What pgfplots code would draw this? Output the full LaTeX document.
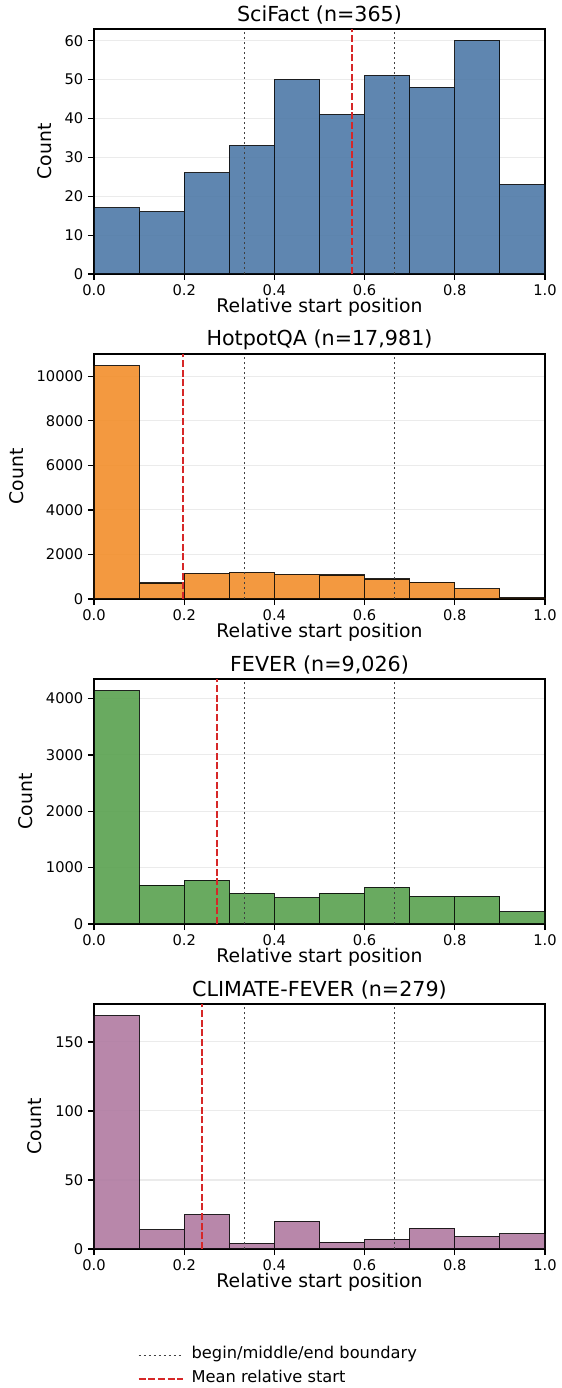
\documentclass[border=0pt]{standalone}
\usepackage{fontspec}
\setmainfont{DejaVu Sans}
\usepackage{pgfplots}
\pgfplotsset{compat=1.18}

\definecolor{cBlue}{HTML}{4E79A7}
\definecolor{cOrange}{HTML}{F28E2B}
\definecolor{cGreen}{HTML}{59A14F}
\definecolor{cPurple}{HTML}{B07AA1}
\definecolor{cMean}{HTML}{D62728}
\definecolor{cGrid}{HTML}{EBEBEB}

\pgfplotsset{
  hist/.style={
    scale only axis, width=338.25pt, height=183.75pt,
    anchor=north west,
    xmin=0, xmax=1, ymin=0,
    xtick={0,0.2,0.4,0.6,0.8,1},
    xticklabel style={/pgf/number format/fixed, /pgf/number format/fixed zerofill,
      /pgf/number format/precision=1},
    axis line style={black, line width=0.9pt},
    tick align=outside, major tick length=4.5pt,
    tick style={black, line width=0.9pt},
    xtick pos=left, ytick pos=left,
    ymajorgrids, grid style={cGrid, line width=0.8pt},
    tick label style={font=\fontsize{11}{13}\selectfont},
    /pgf/number format/assume math mode=true,
    /pgf/number format/1000 sep={},
    scaled y ticks=false,
    xlabel={Relative start position},
    ylabel={Count},
    ylabel shift=3pt,
    label style={font=\fontsize{14.1}{16}\selectfont},
    xlabel style={at={(0.5,0)}, anchor=center, yshift=-24.75pt},
    every axis title shift=0pt,
    title style={font=\fontsize{15.5}{18}\selectfont, at={(0.5,1)}, anchor=center, yshift=10.5pt},
  },
  meanline/.style={cMean, line width=1.5pt, dash pattern=on 5.25pt off 2pt, forget plot},
  bnd/.style={black!75, line width=1pt, dash pattern=on 1.5pt off 2.25pt, forget plot},
  bars/.style={ybar interval, fill=#1, fill opacity=0.9, draw=black, draw opacity=0.85,
    line width=0.85pt, forget plot},
}

\begin{document}
\begin{tikzpicture}
\path[use as bounding box] (0pt,0pt) rectangle (420.75pt,-1041pt);

% SciFact
\begin{axis}[hist, at={(70.5pt,-21.75pt)}, ymax=63, ytick={0,10,...,60},
  title={SciFact (n=365)}]
\addplot[bars=cBlue] coordinates {
  (0,17) (0.1,16) (0.2,26) (0.3,33) (0.4,50) (0.5,41) (0.6,51) (0.7,48) (0.8,60) (0.9,23) (1,23)};
\addplot[bnd] coordinates {(0.3333,0) (0.3333,63)};
\addplot[bnd] coordinates {(0.6667,0) (0.6667,63)};
\addplot[meanline] coordinates {(0.571,0) (0.571,63)};
\end{axis}

% HotpotQA
\begin{axis}[hist, at={(70.5pt,-265.5pt)}, ymax=11004, ytick={0,2000,...,10000},
  title={HotpotQA (n=17,981)}]
\addplot[bars=cOrange] coordinates {
  (0,10480) (0.1,720) (0.2,1150) (0.3,1200) (0.4,1110) (0.5,1080) (0.6,900) (0.7,760) (0.8,460) (0.9,60) (1,60)};
\addplot[bnd] coordinates {(0.3333,0) (0.3333,11004)};
\addplot[bnd] coordinates {(0.6667,0) (0.6667,11004)};
\addplot[meanline] coordinates {(0.197,0) (0.197,11004)};
\end{axis}

% FEVER
\begin{axis}[hist, at={(70.5pt,-509.25pt)}, ymax=4347, ytick={0,1000,...,4000},
  title={FEVER (n=9,026)}]
\addplot[bars=cGreen] coordinates {
  (0,4140) (0.1,690) (0.2,773) (0.3,543) (0.4,466) (0.5,549) (0.6,649) (0.7,490) (0.8,490) (0.9,218) (1,218)};
\addplot[bnd] coordinates {(0.3333,0) (0.3333,4347)};
\addplot[bnd] coordinates {(0.6667,0) (0.6667,4347)};
\addplot[meanline] coordinates {(0.273,0) (0.273,4347)};
\end{axis}

% CLIMATE-FEVER
\begin{axis}[hist, at={(70.5pt,-753pt)}, ymax=177.45, ytick={0,50,100,150},
  title={CLIMATE-FEVER (n=279)},
  legend cell align=left,
  legend style={at={(0.0961,-0.483)}, anchor=west, draw=none, fill=none,
    inner xsep=0pt, inner ysep=0pt, font=\fontsize{12.2}{14}\selectfont,
    row sep=4pt, column sep=4pt,
    nodes={inner sep=2pt, text height=0.75em, text depth=0.25em}},
  legend image code/.code={\draw[#1] (0pt,0pt) -- (33pt,0pt);}]
\addplot[bars=cPurple] coordinates {
  (0,169) (0.1,14) (0.2,25) (0.3,4) (0.4,20) (0.5,5) (0.6,7) (0.7,15) (0.8,9) (0.9,11) (1,11)};
\addplot[bnd] coordinates {(0.3333,0) (0.3333,177.45)};
\addplot[bnd] coordinates {(0.6667,0) (0.6667,177.45)};
\addplot[meanline] coordinates {(0.239,0) (0.239,177.45)};
\addlegendimage{black!75, line width=1pt, dash pattern=on 1.5pt off 2.25pt}
\addlegendentry{begin/middle/end boundary}
\addlegendimage{cMean, line width=1.5pt, dash pattern=on 5.25pt off 2pt}
\addlegendentry{Mean relative start}
\end{axis}
\end{tikzpicture}
\end{document}
